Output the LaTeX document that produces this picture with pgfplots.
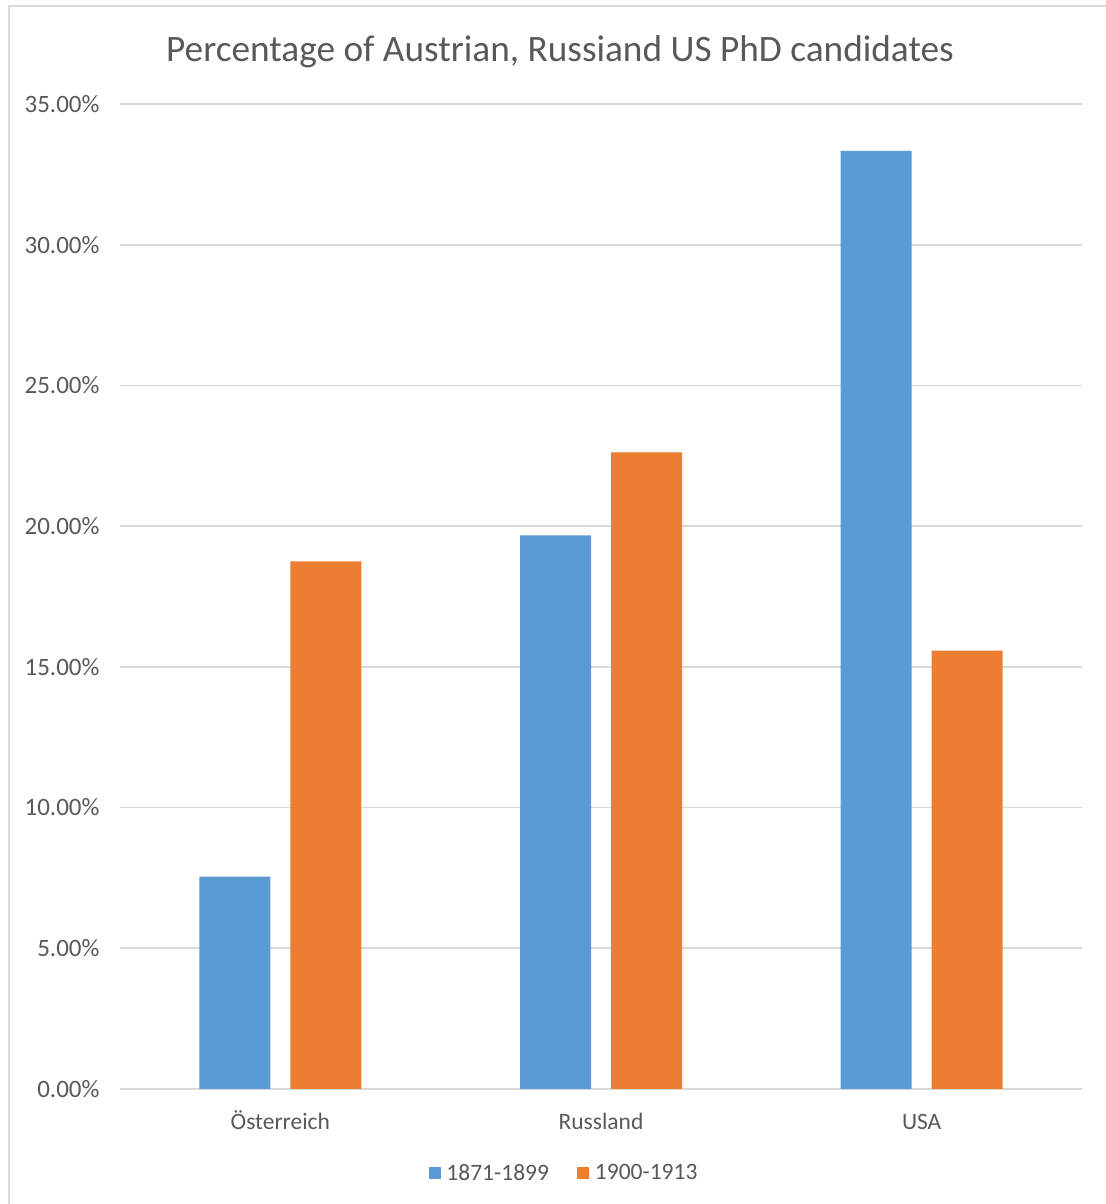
\documentclass[border=0pt]{standalone}
\usepackage{pgfplots}
\pgfplotsset{compat=1.18}
\usepackage{fontspec}
\setmainfont{Carlito}
\definecolor{barblue}{HTML}{5B9BD5}
\definecolor{barorange}{HTML}{ED7D31}
\definecolor{gridgray}{HTML}{D9D9D9}
\definecolor{textgray}{HTML}{595959}
\begin{document}
\begin{tikzpicture}
% page frame: 1106 x 1204
\useasboundingbox (0,0) rectangle (1106bp,1204bp);
% chart border (top and left edges visible)
\draw[gridgray, line width=2bp] (9bp,0bp) -- (9bp,1198bp) -- (1106bp,1198bp);
\node[text=textgray, font=\fontsize{37.3bp}{42bp}\selectfont] at (560bp,1152bp) {Percentage of Austrian, Russiand US PhD candidates};
\begin{axis}[
  at={(120bp,115bp)}, anchor=south west,
  scale only axis, width=962bp, height=985bp,
  xmin=-0.5, xmax=2.5, ymin=0, ymax=35,
  ybar=20bp, bar width=71bp,
  xtick={0,1,2},
  xticklabels={Österreich, Russland, USA},
  ytick={0,5,10,15,20,25,30,35},
  ymajorgrids, grid style={gridgray, line width=1.6bp},
  axis line style={draw=none},
  major tick style={draw=none},
  /pgf/number format/assume math mode=true,
  yticklabel={\pgfmathprintnumber[fixed,fixed zerofill,precision=2]{\tick}\%},
  ticklabel style={text=textgray, font=\fontsize{23.5bp}{28bp}\selectfont},
  yticklabel style={xshift=-17bp, font=\fontsize{25bp}{29bp}\selectfont},
  xticklabel style={anchor=base, yshift=-36bp},
  legend columns=2,
  legend style={draw=none, at={(0.4615,-0.0853)}, anchor=center,
    font=\fontsize{23.5bp}{28bp}\selectfont, text=textgray,
    /tikz/every odd column/.append style={column sep=4bp},
    /tikz/every even column/.append style={column sep=26bp}},
  legend image code/.code={\fill[#1] (0bp,-6bp) rectangle (12bp,6bp);},
]
\addplot[fill=barblue, draw=none] coordinates {(0,7.55) (1,19.67) (2,33.33)};
\addplot[fill=barorange, draw=none] coordinates {(0,18.75) (1,22.62) (2,15.58)};
\legend{1871-1899, 1900-1913}
\end{axis}
\end{tikzpicture}
\end{document}
